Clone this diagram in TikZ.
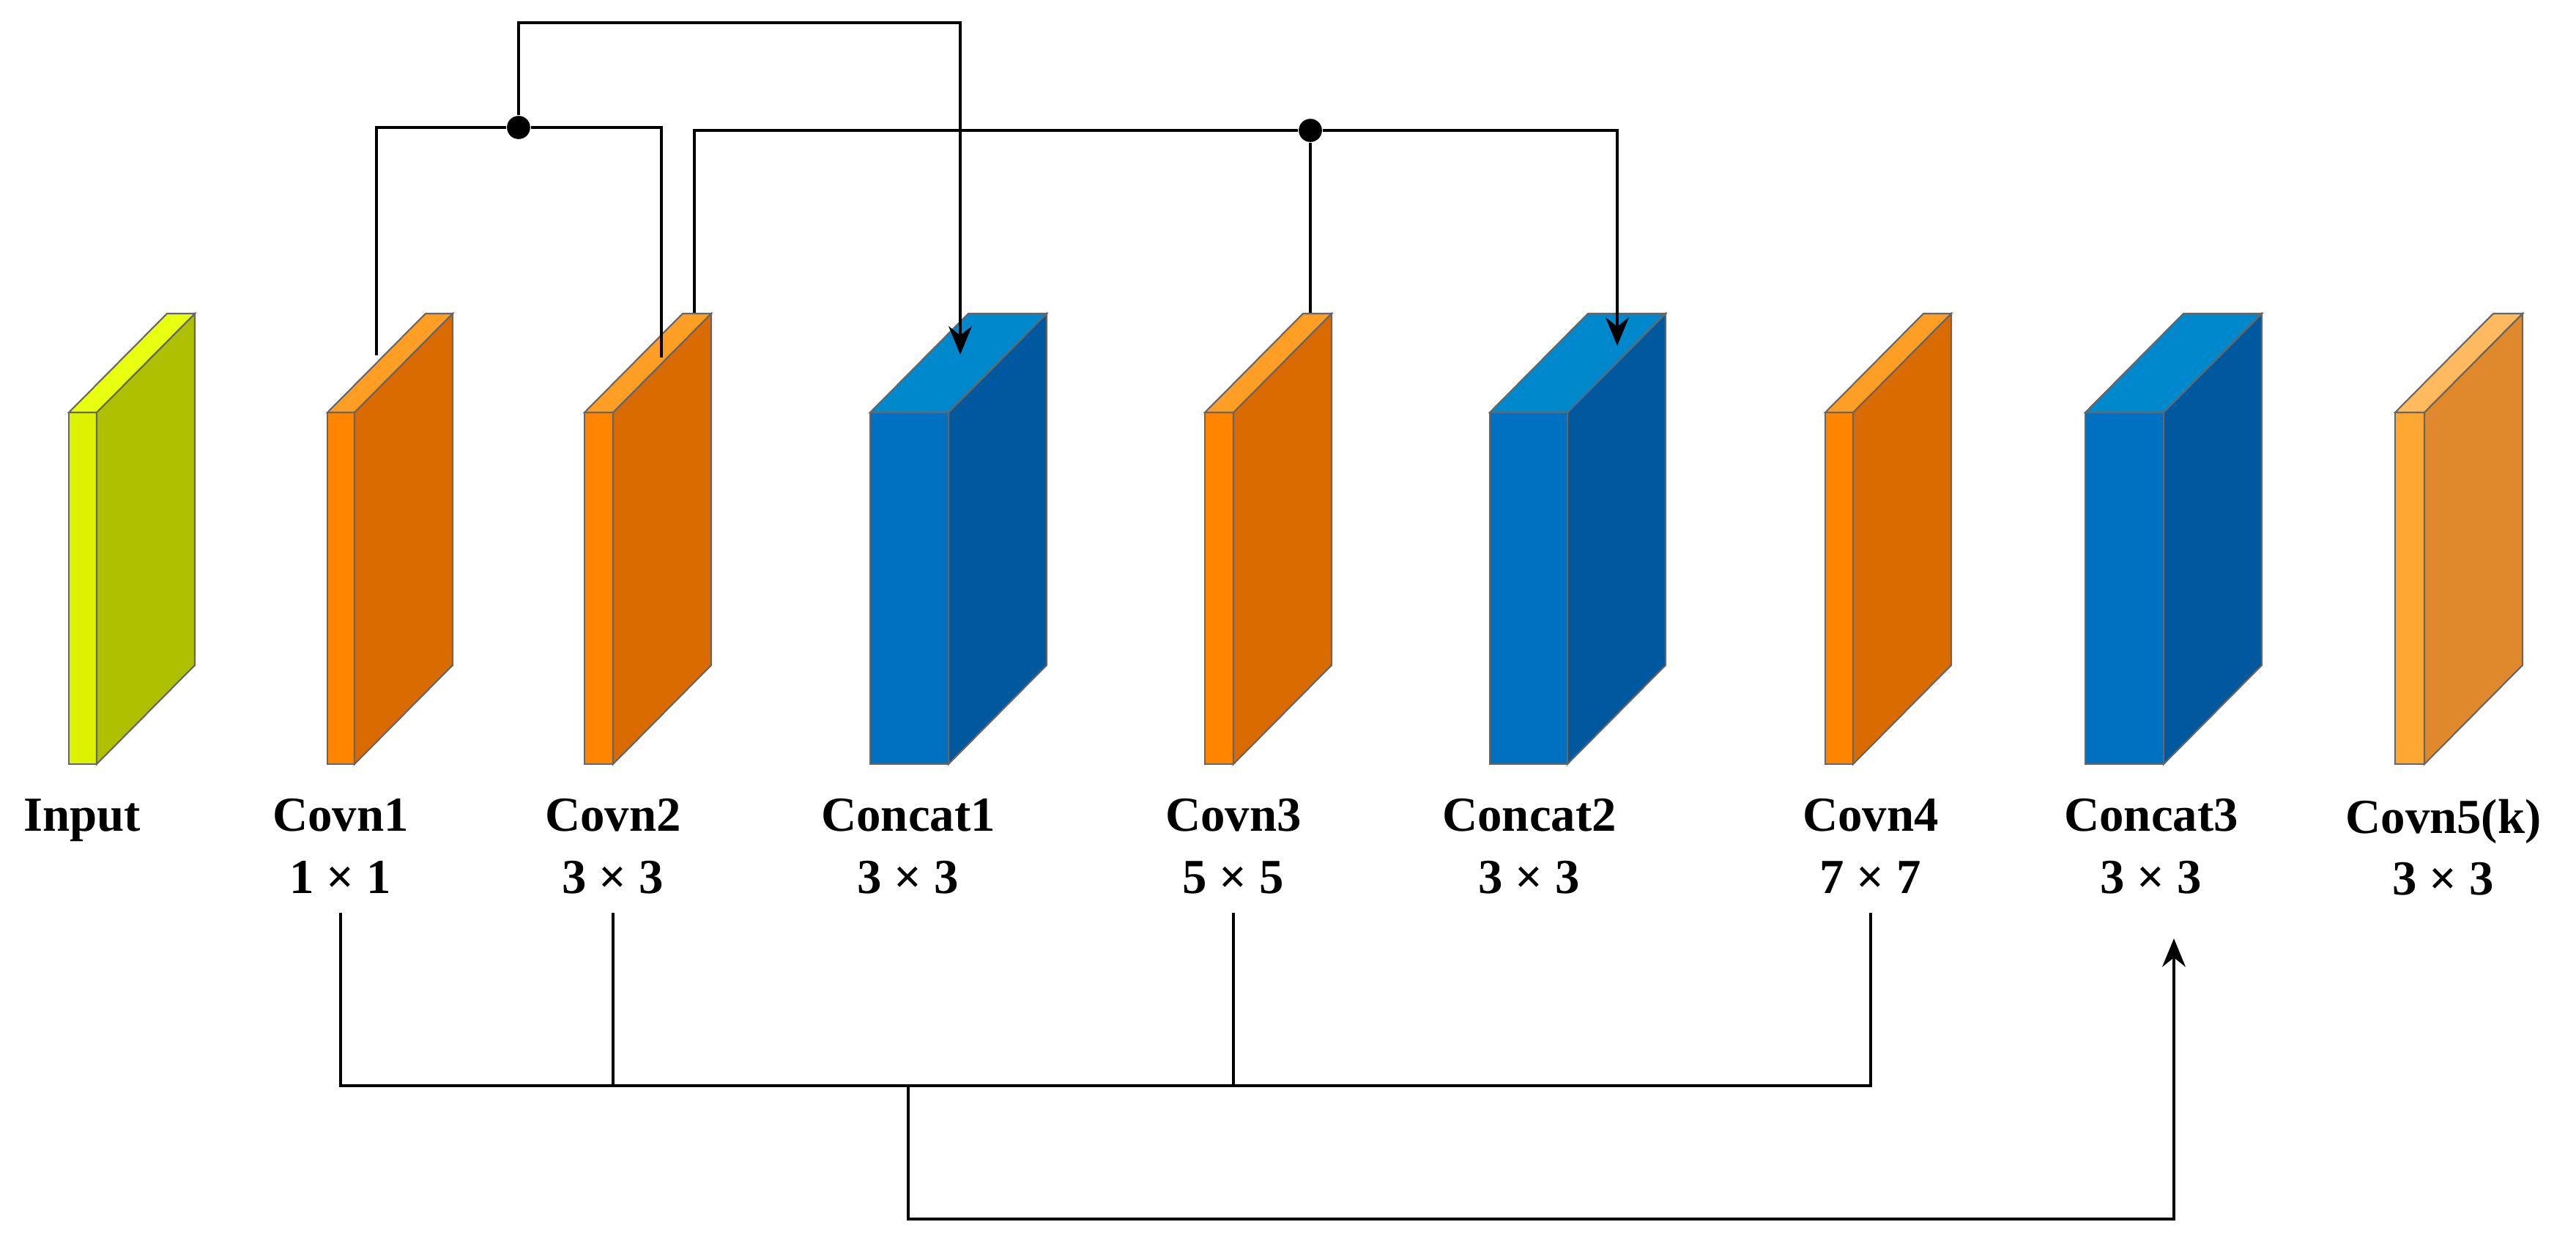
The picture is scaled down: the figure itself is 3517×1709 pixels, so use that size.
\documentclass[tikz,border=0pt]{standalone}
\usepackage{fontspec}
\setmainfont{Liberation Serif}
\usetikzlibrary{arrows.meta}
\begin{document}
\begin{tikzpicture}[x=0.01cm,y=-0.01cm,
  lbl/.style={font=\fontsize{19}{24}\selectfont\bfseries,align=center,anchor=north,inner sep=0pt},
  wire/.style={line width=1.3pt},
  arr/.style={wire,-{Stealth[length=11pt,width=9pt]}},
  dot/.style={circle,fill=black,inner sep=0pt,minimum size=9pt}]
\definecolor{gF}{HTML}{DDF200}\definecolor{gS}{HTML}{AEC000}\definecolor{gT}{HTML}{E8FF10}
\definecolor{oF}{HTML}{FF8500}\definecolor{oS}{HTML}{DA6B00}\definecolor{oT}{HTML}{FF9E25}
\definecolor{bF}{HTML}{0070C0}\definecolor{bS}{HTML}{00589E}\definecolor{bT}{HTML}{0088CC}
\definecolor{pF}{HTML}{FFA733}\definecolor{pS}{HTML}{E0882C}\definecolor{pT}{HTML}{FFB95E}
\useasboundingbox (0,0) rectangle (3517,1709);
% block: #1 x0, #2 x1, #3 front, #4 side, #5 top
\newcommand{\blk}[5]{%
  \filldraw[fill=#3,draw=black!60,line width=0.6pt] (#1,563) rectangle (#2,1043);
  \filldraw[fill=#4,draw=black!60,line width=0.6pt] (#2,563) -- ({#2+134},428) -- ({#2+134},908) -- (#2,1043) -- cycle;
  \filldraw[fill=#5,draw=black!60,line width=0.6pt] (#1,563) -- ({#1+134},428) -- ({#2+134},428) -- (#2,563) -- cycle;}
\blk{94}{132}{gF}{gS}{gT}
\blk{447}{484}{oF}{oS}{oT}
\blk{798}{837}{oF}{oS}{oT}
\blk{1188}{1295}{bF}{bS}{bT}
\blk{1645}{1684}{oF}{oS}{oT}
\blk{2034}{2140}{bF}{bS}{bT}
\blk{2492}{2530}{oF}{oS}{oT}
\blk{2847}{2954}{bF}{bS}{bT}
\blk{3270}{3310}{pF}{pS}{pT}
% labels
\node[lbl] (in) at (112,1090) {Input};
\node[lbl] (c1) at (465,1090) {Covn1\\1 × 1};
\node[lbl] (c2) at (837,1090) {Covn2\\3 × 3};
\node[lbl] (k1) at (1240,1090) {Concat1\\3 × 3};
\node[lbl] (c3) at (1684,1090) {Covn3\\5 × 5};
\node[lbl] (k2) at (2088,1090) {Concat2\\3 × 3};
\node[lbl] (c4) at (2554,1090) {Covn4\\7 × 7};
\node[lbl] (k3) at (2937,1090) {Concat3\\3 × 3};
\node[lbl] (c5) at (3336,1090) {Covn5(k)\\3 × 3};
% top coordinates
\coordinate (c1t) at (514,485);
\coordinate (c2t) at (903,488);
\coordinate (c2u) at (948,427);
\coordinate (c3t) at (1789,427);
\coordinate (k1t) at (1311,484);
\coordinate (k2t) at (2208,472);
\node[dot] (d1) at (708,174) {};
\node[dot] (d2) at (1789,178) {};
\draw[wire] (c1t) |- (d1) -| (c2t);
\draw[arr] (d1) -- (708,31) -| (k1t);
\draw[wire] (c2u) |- (d2) -- (c3t);
\draw[arr] (d2) -| (k2t);
% bottom
\coordinate (bus) at (1240,1482);
\draw[wire] (c1.south |- 0,1246) |- (c4.south |- 0,1482) -- (c4.south |- 0,1246);
\draw[wire] (c2.south |- 0,1246) -- (c2.south |- 0,1482);
\draw[wire] (c3.south |- 0,1246) -- (c3.south |- 0,1482);
\draw[arr] (bus) |- (2968,1664) -- (2968,1281);
\end{tikzpicture}
\end{document}
